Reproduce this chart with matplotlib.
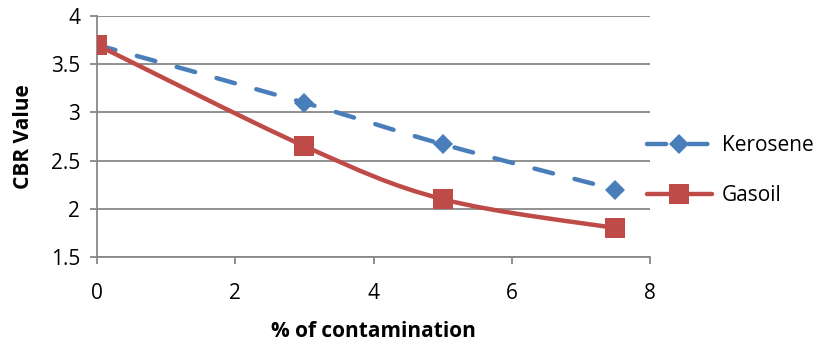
import matplotlib
matplotlib.use("Agg")
import matplotlib.pyplot as plt
from matplotlib.path import Path
from matplotlib.patches import PathPatch
from matplotlib.lines import Line2D
import numpy as np

contamination = [0, 3, 5, 7.5]
kerosene = [3.7, 3.1, 2.67, 2.2]
gasoil = [3.7, 2.65, 2.1, 1.8]
series_names = ["Kerosene", "Gasoil"]
x_ticks = [0, 2, 4, 6, 8]
y_ticks = [1.5, 2, 2.5, 3, 3.5, 4]

blue = "#4A7EBB"
red = "#BE4B48"
grid_c = "#888888"
plt.rcParams['font.family'] = ['Open Sans', 'DejaVu Sans']

W, H = 827, 344
fig = plt.figure(figsize=(W / 100, H / 100), dpi=100)
ax = fig.add_axes([97 / W, 1 - 257 / H, (650 - 97) / W, (257 - 16) / H])

LW = 3.2
DASH = (0, (4.3, 5.0))
DM = 10.5
SM = 15


def smooth_path(xs, ys, t=1 / 6):
    pts = np.column_stack([xs, ys]).astype(float)
    n = len(pts)
    verts = [pts[0]]
    codes = [Path.MOVETO]
    for i in range(n - 1):
        p0 = pts[i - 1] if i > 0 else pts[i]
        p1 = pts[i]
        p2 = pts[i + 1]
        p3 = pts[i + 2] if i + 2 < n else pts[i + 1]
        c1 = p1 + (p2 - p0) * t
        c2 = p2 - (p3 - p1) * t
        verts += [c1, c2, p2]
        codes += [Path.CURVE4] * 3
    return Path(verts, codes)


kp = PathPatch(smooth_path(contamination, kerosene), fill=False, edgecolor=blue,
               linewidth=LW, linestyle=DASH, zorder=3)
kp.set_capstyle('round')
ax.add_patch(kp)
gp = PathPatch(smooth_path(contamination, gasoil), fill=False, edgecolor=red,
               linewidth=LW, zorder=3)
gp.set_capstyle('round')
ax.add_patch(gp)
ax.plot(contamination, kerosene, linestyle='none', marker='D', markersize=DM,
        markeredgewidth=0, color=blue, zorder=4)
ax.plot(contamination, gasoil, linestyle='none', marker='s', markersize=SM,
        markeredgewidth=0, color=red, zorder=5)

ax.set_xlim(0, 8)
ax.set_ylim(1.5, 4)
ax.set_xticks(x_ticks)
ax.set_yticks(y_ticks)
ax.set_xticklabels([str(v) for v in x_ticks])
ax.set_yticklabels([f"{v:g}" for v in y_ticks])
ax.yaxis.grid(True, color=grid_c, linewidth=1.3)
ax.set_axisbelow(True)
for s in ['top', 'right']:
    ax.spines[s].set_visible(False)
for s in ['left', 'bottom']:
    ax.spines[s].set_color(grid_c)
    ax.spines[s].set_linewidth(1.3)
ax.tick_params(axis='both', colors=grid_c, length=5, width=1.3, labelsize=15,
               labelcolor='black')
ax.tick_params(axis='x', pad=14)
ax.tick_params(axis='y', pad=7)
ax.set_xlabel("% of contamination", fontsize=15, fontweight='bold', labelpad=12)
ax.set_ylabel("CBR Value", fontsize=15, fontweight='bold', labelpad=12)

handles = [
    Line2D([], [], color=blue, linewidth=LW, linestyle=DASH,
           marker='D', markersize=DM, markeredgewidth=0, dash_capstyle='round'),
    Line2D([], [], color=red, linewidth=LW, marker='s', markersize=SM,
           markeredgewidth=0, solid_capstyle='round'),
]
fig.legend(handles, series_names, loc='center left',
           bbox_to_anchor=(647 / W, 1 - 170.5 / H), frameon=False, fontsize=15,
           handlelength=3.1, handletextpad=0.5, labelspacing=1.4,
           borderpad=0, borderaxespad=0)

fig.savefig("out.png", dpi=100)
